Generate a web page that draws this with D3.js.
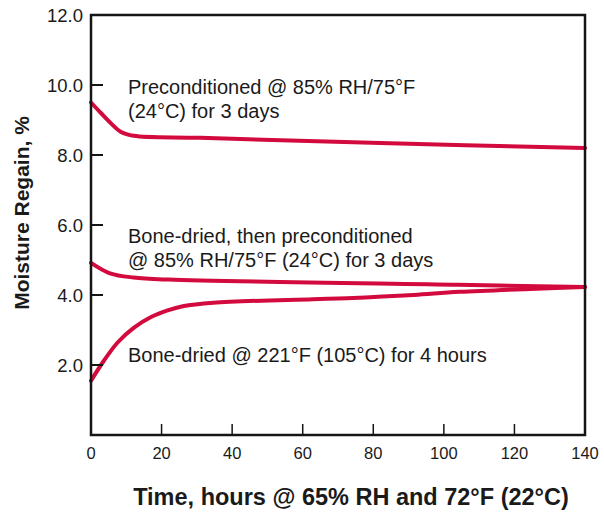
<!DOCTYPE html>
<html>
<head>
<meta charset="utf-8">
<script src="https://cdn.jsdelivr.net/npm/d3@7"></script>
<style>
  body { margin: 0; background: #fff; }
  text { font-family: "Liberation Sans", Arial, Helvetica, sans-serif; fill: #1a1a1a; }
</style>
</head>
<body>
<div id="chart"></div>
<script>
// values
var xTicks = [0, 20, 40, 60, 80, 100, 120, 140];
var yTicks = [2, 4, 6, 8, 10, 12];

var preconditioned = [
  [0, 9.5], [2.8, 9.2], [5.6, 8.91], [8.5, 8.66], [12.1, 8.55],
  [31, 8.49], [82, 8.34], [140, 8.2]
];
var boneThenPre = [
  [0, 4.92], [5.4, 4.62], [12, 4.5], [22, 4.44], [104, 4.29], [140, 4.23]
];
var boneDried = [
  [0, 1.55], [3.5, 2.1], [7.6, 2.65], [12.1, 3.06], [17, 3.37],
  [21.7, 3.56], [26, 3.68], [34.7, 3.78], [62.9, 3.88], [72.5, 3.91],
  [91.4, 4.0], [104.4, 4.09], [140, 4.23]
];

var notes = [
  {x: 128, y: 94, lines: ["Preconditioned @ 85% RH/75°F", "(24°C) for 3 days"]},
  {x: 128, y: 243, lines: ["Bone-dried, then preconditioned", "@ 85% RH/75°F (24°C) for 3 days"]},
  {x: 128, y: 362, lines: ["Bone-dried @ 221°F (105°C) for 4 hours"]}
];

var width = 604, height = 513;
var plotLeft = 91, plotRight = 585, plotTop = 15, plotBottom = 435;

var svg = d3.select("#chart").append("svg")
    .attr("width", width)
    .attr("height", height);

var x = d3.scaleLinear().domain([0, 140]).range([plotLeft, plotRight]);
var y = d3.scaleLinear().domain([0, 12]).range([plotBottom, plotTop]);

// curves
var line = d3.line()
    .x(function(d) { return x(d[0]); })
    .y(function(d) { return y(d[1]); })
    .curve(d3.curveCatmullRom.alpha(0.5));

svg.selectAll(".curve")
    .data([preconditioned, boneThenPre, boneDried])
    .enter().append("path")
    .attr("class", "curve")
    .attr("d", line)
    .attr("fill", "none")
    .attr("stroke", "#d20a3d")
    .attr("stroke-width", 4)
    .attr("stroke-linecap", "round");

// frame
svg.append("rect")
    .attr("x", plotLeft).attr("y", plotTop)
    .attr("width", plotRight - plotLeft).attr("height", plotBottom - plotTop)
    .attr("fill", "none")
    .attr("stroke", "#151515")
    .attr("stroke-width", 2.5);

// y ticks (inward)
svg.selectAll(".ytick")
    .data(yTicks.filter(function(d) { return d < 12; }))
    .enter().append("line")
    .attr("x1", plotLeft).attr("x2", plotLeft + 12)
    .attr("y1", function(d) { return y(d); })
    .attr("y2", function(d) { return y(d); })
    .attr("stroke", "#151515").attr("stroke-width", 2);

svg.selectAll(".ylab")
    .data(yTicks)
    .enter().append("text")
    .attr("x", 83)
    .attr("y", function(d) { return y(d) + 6.5; })
    .attr("text-anchor", "end")
    .style("font-size", "18.5px")
    .text(function(d) { return d.toFixed(1); });

// x ticks (upward)
svg.selectAll(".xtick")
    .data(xTicks.filter(function(d) { return d > 0 && d < 140; }))
    .enter().append("line")
    .attr("x1", function(d) { return x(d); })
    .attr("x2", function(d) { return x(d); })
    .attr("y1", plotBottom).attr("y2", plotBottom - 11)
    .attr("stroke", "#151515").attr("stroke-width", 1.5);

svg.selectAll(".xlab")
    .data(xTicks)
    .enter().append("text")
    .attr("x", function(d) { return x(d); })
    .attr("y", 459)
    .attr("text-anchor", "middle")
    .style("font-size", "16.5px")
    .text(function(d) { return d; });

// annotations
notes.forEach(function(n) {
  n.lines.forEach(function(t, i) {
    svg.append("text")
        .attr("x", n.x)
        .attr("y", n.y + i * 24)
        .style("font-size", "20px")
        .text(t);
  });
});

// axis titles
svg.append("text")
    .attr("x", 351).attr("y", 505)
    .attr("text-anchor", "middle")
    .style("font-size", "23.5px")
    .style("font-weight", "bold")
    .text("Time, hours @ 65% RH and 72°F (22°C)");

svg.append("text")
    .attr("transform", "translate(29,213) rotate(-90)")
    .attr("text-anchor", "middle")
    .style("font-size", "21px")
    .style("font-weight", "bold")
    .text("Moisture Regain, %");
</script>
</body>
</html>
